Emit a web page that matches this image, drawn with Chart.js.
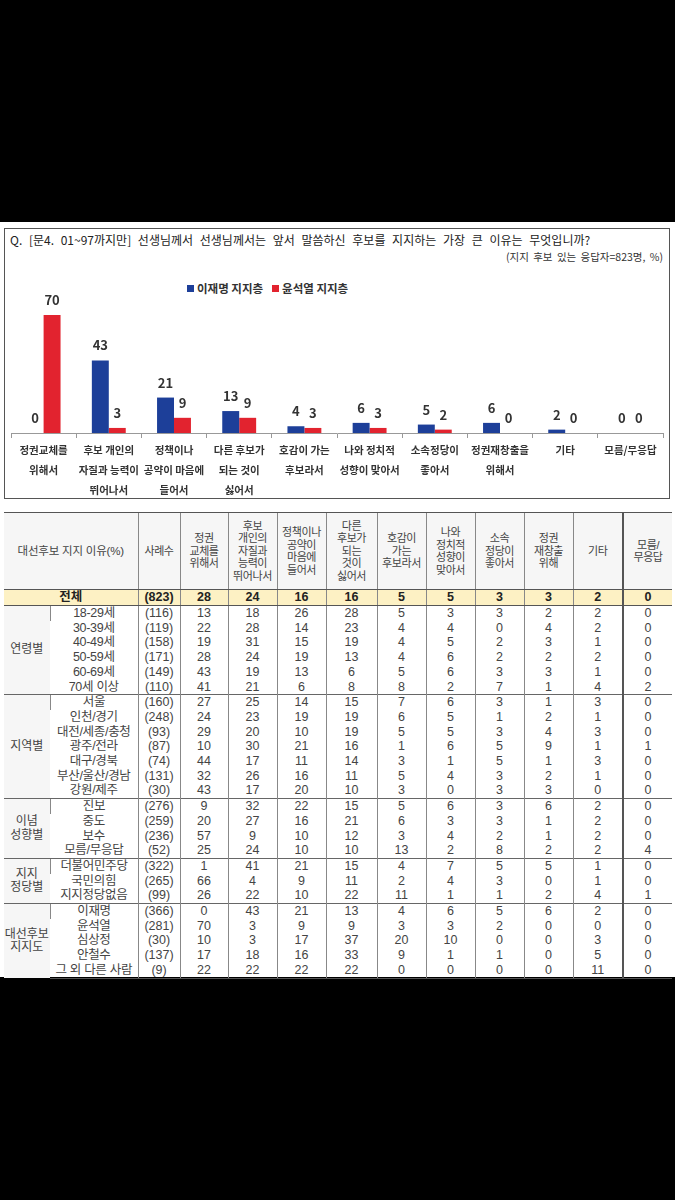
<!DOCTYPE html>
<html>
<head>
<meta charset="utf-8">
<script src="https://cdn.jsdelivr.net/npm/chart.js@4"></script>
<style>
  body { margin: 0; background: #000; font-family: "Noto Sans CJK KR", sans-serif; }
  #page { position: relative; width: 675px; height: 1200px; }
  #sheet { position: absolute; left: 0; top: 222px; width: 675px; height: 755px; background: #fff; }
  #box { position: absolute; left: 4px; top: 228px; width: 664px; height: 269px; border: 1.5px solid #555; }
  #question { position: absolute; left: 10px; top: 231px; font-size: 12px; word-spacing: 4px; line-height: 18px; color: #222; white-space: nowrap; }
  #base { position: absolute; right: 12px; top: 249px; font-size: 10.5px; word-spacing: 2px; line-height: 16px; color: #333; white-space: nowrap; }
  #legend { position: absolute; left: 187px; top: 280px; font-size: 11.5px; font-weight: bold; color: #333; line-height: 16px; white-space: nowrap; }
  #legend span.sq { display: inline-block; width: 7px; height: 7px; margin-right: 3px; vertical-align: 1px; }
  #legend span.item { margin-right: 9px; }
  #chart { position: absolute; left: 5px; top: 290px; }
  table { position: absolute; left: 4px; top: 512px; border-collapse: collapse; table-layout: fixed; width: 668px; color: #444;
          font-family: "Liberation Sans", "Noto Sans CJK KR", sans-serif; }
  td { padding: 0; text-align: center; font-size: 12.5px; line-height: 14.7px; height: 14.7px; border-left: 1px solid #888; white-space: nowrap; }
  td:first-child { border-left: none; }
  tr.head td { height: 76px; font-size: 11px; line-height: 12.5px; letter-spacing: -0.4px; background: #f6f6f6; border-top: 1.5px solid #555; border-bottom: 1.5px solid #555; }
  tr.total td { background: #fdf1c4; font-weight: bold; color: #222; height: 15px; line-height: 15px; border-bottom: 1.5px solid #555; }
  tr.first td { border-top: 1.5px solid #666; }
  td.grp { background: #f6f6f6; font-size: 12px; line-height: 13.5px; }
  td.sub { letter-spacing: -0.3px; }
  td.last { border-left: 2px solid #555; }
  tr.end td { border-bottom: 1.5px solid #555; }
</style>
</head>
<body>
<div id="page">
  <div id="sheet"></div>
  <div id="box"></div>
  <div id="question">Q. [문4. 01~97까지만] 선생님께서 선생님께서는 앞서 말씀하신 후보를 지지하는 가장 큰 이유는 무엇입니까?</div>
  <div id="base">(지지 후보 있는 응답자=823명, %)</div>
  <div id="legend"></div>
  <canvas id="chart" width="665" height="213"></canvas>
  <table id="tbl"></table>
</div>
<script>
const categories = [
  ['정권교체를', '위해서'],
  ['후보 개인의', '자질과 능력이', '뛰어나서'],
  ['정책이나', '공약이 마음에', '들어서'],
  ['다른 후보가', '되는 것이', '싫어서'],
  ['호감이 가는', '후보라서'],
  ['나와 정치적', '성향이 맞아서'],
  ['소속정당이', '좋아서'],
  ['정권재창출을', '위해서'],
  ['기타'],
  ['모름/무응답']
];
const seriesNames = ['이재명 지지층', '윤석열 지지층'];
const leeValues = [0, 43, 21, 13, 4, 6, 5, 6, 2, 0];
const yoonValues = [70, 3, 9, 9, 3, 3, 2, 0, 0, 0];
const colors = ['#1d3f99', '#e2232f'];

// table data
const tableHeaders = [
  ['정권', '교체를', '위해서'],
  ['후보', '개인의', '자질과', '능력이', '뛰어나서'],
  ['정책이나', '공약이', '마음에', '들어서'],
  ['다른', '후보가', '되는', '것이', '싫어서'],
  ['호감이', '가는', '후보라서'],
  ['나와', '정치적', '성향이', '맞아서'],
  ['소속', '정당이', '좋아서'],
  ['정권', '재창출', '위해'],
  ['기타'],
  ['모름/', '무응답']
];
const totalRow = ['전체', '(823)', 28, 24, 16, 16, 5, 5, 3, 3, 2, 0];

const ageRows = [
  ['18-29세', '(116)', 13, 18, 26, 28, 5, 3, 3, 2, 2, 0],
  ['30-39세', '(119)', 22, 28, 14, 23, 4, 4, 0, 4, 2, 0],
  ['40-49세', '(158)', 19, 31, 15, 19, 4, 5, 2, 3, 1, 0],
  ['50-59세', '(171)', 28, 24, 19, 13, 4, 6, 2, 2, 2, 0],
  ['60-69세', '(149)', 43, 19, 13, 6, 5, 6, 3, 3, 1, 0],
  ['70세 이상', '(110)', 41, 21, 6, 8, 8, 2, 7, 1, 4, 2]
];
const regionRows = [
  ['서울', '(160)', 27, 25, 14, 15, 7, 6, 3, 1, 3, 0],
  ['인천/경기', '(248)', 24, 23, 19, 19, 6, 5, 1, 2, 1, 0],
  ['대전/세종/충청', '(93)', 29, 20, 10, 19, 5, 5, 3, 4, 3, 0],
  ['광주/전라', '(87)', 10, 30, 21, 16, 1, 6, 5, 9, 1, 1],
  ['대구/경북', '(74)', 44, 17, 11, 14, 3, 1, 5, 1, 3, 0],
  ['부산/울산/경남', '(131)', 32, 26, 16, 11, 5, 4, 3, 2, 1, 0],
  ['강원/제주', '(30)', 43, 17, 20, 10, 3, 0, 3, 3, 0, 0]
];
const ideologyRows = [
  ['진보', '(276)', 9, 32, 22, 15, 5, 6, 3, 6, 2, 0],
  ['중도', '(259)', 20, 27, 16, 21, 6, 3, 3, 1, 2, 0],
  ['보수', '(236)', 57, 9, 10, 12, 3, 4, 2, 1, 2, 0],
  ['모름/무응답', '(52)', 25, 24, 10, 10, 13, 2, 8, 2, 2, 4]
];
const partyRows = [
  ['더불어민주당', '(322)', 1, 41, 21, 15, 4, 7, 5, 5, 1, 0],
  ['국민의힘', '(265)', 66, 4, 9, 11, 2, 4, 3, 0, 1, 0],
  ['지지정당없음', '(99)', 26, 22, 10, 22, 11, 1, 1, 2, 4, 1]
];
const candidateRows = [
  ['이재명', '(366)', 0, 43, 21, 13, 4, 6, 5, 6, 2, 0],
  ['윤석열', '(281)', 70, 3, 9, 9, 3, 3, 2, 0, 0, 0],
  ['심상정', '(30)', 10, 3, 17, 37, 20, 10, 0, 0, 3, 0],
  ['안철수', '(137)', 17, 18, 16, 33, 9, 1, 1, 0, 5, 0],
  ['그 외 다른 사람', '(9)', 22, 22, 22, 22, 0, 0, 0, 0, 11, 0]
];
const groups = [
  [['연령별'], ageRows],
  [['지역별'], regionRows],
  [['이념', '성향별'], ideologyRows],
  [['지지', '정당별'], partyRows],
  [['대선후보', '지지도'], candidateRows]
];

// legend
document.getElementById('legend').innerHTML = seriesNames.map((n, i) =>
  `<span class="item"><span class="sq" style="background:${colors[i]}"></span>${n}</span>`).join('');

// value labels above bars
const barLabels = {
  id: 'barLabels',
  afterDatasetsDraw(chart) {
    const ctx = chart.ctx;
    ctx.save();
    ctx.font = 'bold 13px "Noto Sans CJK KR"';
    ctx.fillStyle = '#333';
    ctx.textAlign = 'center';
    ctx.textBaseline = 'middle';
    chart.data.datasets.forEach((ds, i) => {
      chart.getDatasetMeta(i).data.forEach((el, j) => {
        ctx.fillText(ds.data[j], el.x, el.y - 15);
      });
    });
    ctx.restore();
  }
};

new Chart(document.getElementById('chart'), {
  type: 'bar',
  data: {
    labels: categories,
    datasets: [
      { label: seriesNames[0], data: leeValues, backgroundColor: colors[0] },
      { label: seriesNames[1], data: yoonValues, backgroundColor: colors[1] }
    ]
  },
  options: {
    responsive: false,
    animation: false,
    layout: { padding: { top: 8, left: 6, right: 7, bottom: 0 } },
    datasets: { bar: { categoryPercentage: 0.52, barPercentage: 1 } },
    plugins: { legend: { display: false }, tooltip: { enabled: false } },
    scales: {
      x: {
        grid: { display: true, drawOnChartArea: false, drawTicks: true, tickLength: 5, color: '#999' },
        border: { color: '#999' },
        ticks: {
          padding: 2,
          maxRotation: 0,
          autoSkip: false,
          color: '#333',
          font: { family: 'Noto Sans CJK KR', size: 10.5, weight: 'bold', lineHeight: '20px' }
        },
        afterFit: s => { s.height = 70; }
      },
      y: { display: false, min: 0, max: 80 }
    }
  },
  plugins: [barLabels]
});

// table
let html = '<colgroup><col style="width:46px"><col style="width:88px"><col style="width:42px">' +
  '<col style="width:48px"><col style="width:49px"><col style="width:49px"><col style="width:51px">' +
  '<col style="width:49px"><col style="width:49px"><col style="width:49px"><col style="width:49px">' +
  '<col style="width:50px"><col style="width:49px"></colgroup>';
html += '<tr class="head"><td colspan="2" style="font-size:11.5px;letter-spacing:-0.2px">대선후보 지지 이유(%)</td><td>사례수</td>';
tableHeaders.forEach((h, i) => {
  html += `<td${i === tableHeaders.length - 1 ? ' class="last"' : ''}>${h.join('<br>')}</td>`;
});
html += '</tr>';
html += '<tr class="total"><td colspan="2">' + totalRow[0] + '</td>' +
  totalRow.slice(1).map((v, i) => `<td${i === totalRow.length - 2 ? ' class="last"' : ''}>${v}</td>`).join('') + '</tr>';
groups.forEach(([name, rows], gi) => {
  rows.forEach((r, ri) => {
    let cls = [];
    if (ri === 0 && gi > 0) cls.push('first');
    if (gi === groups.length - 1 && ri === rows.length - 1) cls.push('end');
    html += `<tr class="${cls.join(' ')}">`;
    if (ri === 0) html += `<td class="grp" rowspan="${rows.length}">${name.join('<br>')}</td>`;
    html += `<td class="sub">${r[0]}</td>`;
    html += r.slice(1).map((v, i) => `<td${i === r.length - 2 ? ' class="last"' : ''}>${v}</td>`).join('');
    html += '</tr>';
  });
});
document.getElementById('tbl').innerHTML = html;
</script>
</body>
</html>
